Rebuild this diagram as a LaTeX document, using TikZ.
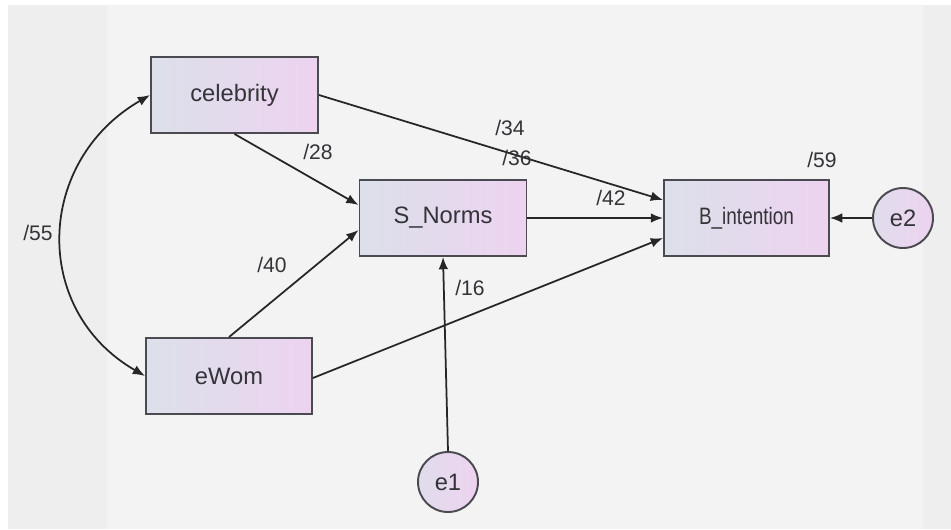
\documentclass[tikz,border=0pt]{standalone}
\usepackage{fontspec}
\setmainfont{Liberation Sans}
\usepackage{xcolor}
\usepackage{tikz}
\usetikzlibrary{
    calc,
    arrows.meta,
    shapes.geometric
}
\definecolor{boxleft}{HTML}{DCE0EA}
\definecolor{boxright}{HTML}{EDD3F0}
\definecolor{edgegray}{HTML}{4A4A50}
\definecolor{txtgray}{HTML}{333338}
\definecolor{bgout}{HTML}{EEEEEE}
\definecolor{bgpanel}{HTML}{F3F3F3}
\tikzset{
    varbox/.style={rectangle, draw=edgegray, line width=1.1pt,
        left color=boxleft, right color=boxright,
        minimum width=3.34cm, minimum height=1.52cm,
        text=txtgray, font=\fontsize{13.5pt}{16pt}\selectfont},
    errnode/.style={circle, draw=edgegray, line width=1.1pt,
        left color=boxleft!70!boxright, right color=boxright,
        minimum size=1.2cm, inner sep=0pt,
        text=txtgray, font=\fontsize{13.5pt}{16pt}\selectfont},
    coef/.style={text=txtgray, font=\fontsize{12pt}{14pt}\selectfont, inner sep=1pt},
    path/.style={line width=1pt, draw=black!85, -{Latex[length=7pt,width=5.5pt]}}
}

\begin{document}
\begin{tikzpicture}[x=0.02cm, y=-0.02cm]
        % background
        \fill[white] (0,0) rectangle (951,529);
        \fill[bgout] (8,5) rectangle (951,529);
        \fill[bgpanel] (107,5) rectangle (923,529);
        \useasboundingbox (0,0) rectangle (951,529);

        \draw (234.5,95) node[varbox](cel){celebrity};
        \draw (443,218) node[varbox](sno){S\_Norms};
        \draw (746.5,218) node[varbox, minimum width=3.3cm](bin){\scalebox{0.8}[1]{B\_intention}};
        \draw (229,376) node[varbox, minimum width=3.32cm](ewo){eWom};
        \draw (448,482) node[errnode](eone){e1};
        \draw (903,218) node[errnode](etwo){e2};

        \draw[path] (cel.east) to ([yshift=0.36cm]bin.west);
        \draw[path] (cel.south) to ([yshift=0.26cm]sno.west);
        \draw[path] (sno.east) to (bin.west);
        \draw[path] (ewo.north) to ([yshift=-0.24cm]sno.west);
        \draw[path] ([yshift=-0.04cm]ewo.east) to ([yshift=-0.4cm]bin.west);
        \draw[path] (eone.north) to (sno.south);
        \draw[path] (etwo.west) to (bin.east);
        \draw[path, {Latex[length=7pt,width=5.5pt]}-{Latex[length=7pt,width=5.5pt]}]
            (cel.west) to[out=210, in=150, looseness=1.2] (ewo.west);

        % estimates
        \draw (510,128) node[coef](ccbi){/34};
        \draw (318,152) node[coef](ccsn){/28};
        \draw (517,158) node[coef](rsno){/36};
        \draw (611,198) node[coef](snbi){/42};
        \draw (822,160) node[coef](rbin){/59};
        \draw (38,233) node[coef](ceew){/55};
        \draw (272,265) node[coef](ewsn){/40};
        \draw (470,288) node[coef](ewbi){/16};
    \end{tikzpicture}
\end{document}
